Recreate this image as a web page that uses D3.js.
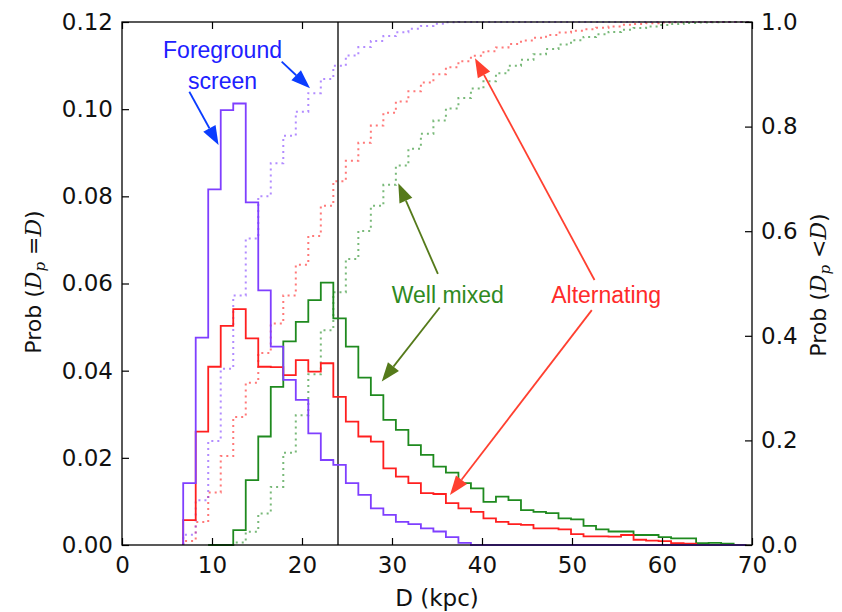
<!DOCTYPE html>
<html><head><meta charset="utf-8">
<script src="https://cdn.jsdelivr.net/npm/d3@7"></script>
<style>body{margin:0;background:#fff}</style>
</head><body><svg id="c" width="842" height="612"></svg>
<script>
// ---- data ----
const binStart = 6.8, binWidth = 1.39;
const foreground = [0.0142,0.0476,0.0816,0.0998,0.1013,0.0786,0.0584,0.0455,0.0379,0.0333,0.0256,0.0195,0.0184,0.0142,0.0115,0.0084,0.0069,0.0053,0.0048,0.0038,0.0031,0.0018,0.0005,0,0,0,0,0,0,0,0,0,0,0,0,0,0,0,0,0,0,0,0,0,0];
const alternating = [0.0057,0.026,0.0409,0.0503,0.0541,0.0474,0.0409,0.0408,0.0390,0.0424,0.0398,0.0417,0.0340,0.0283,0.0249,0.0237,0.0176,0.0157,0.0142,0.0119,0.0117,0.0096,0.0084,0.0076,0.0061,0.0053,0.0048,0.0046,0.0038,0.0038,0.0036,0.0025,0.0020,0.0020,0.0019,0.0023,0.0012,0.0010,0.0009,0.0004,0.0003,0,0,0,0];
const wellMixed = [null,null,0,0,0.0034,0.0149,0.0249,0.0363,0.0467,0.0512,0.0562,0.0602,0.0520,0.0455,0.0384,0.0344,0.0287,0.0264,0.0229,0.0207,0.0180,0.0166,0.0142,0.0130,0.0099,0.0111,0.0103,0.0080,0.0076,0.0073,0.0061,0.0059,0.0044,0.0036,0.0031,0.0031,0.0023,0.0023,0.0018,0.0015,0.0015,0.0004,0.0005,0.0003,0];
const xTicks = [0,10,20,30,40,50,60,70];
const leftTicks = [0,0.02,0.04,0.06,0.08,0.10,0.12];
const rightTicks = [0,0.2,0.4,0.6,0.8,1.0];
const dividerD = 24;

const seriesColors = {foreground:"#7f3fff", alternating:"#ff1f1f", wellMixed:"#1f8a1f"};

// annotations in data coords (D, left-axis prob)
const labels = [
  {text:"Foreground", x:11.17, y:0.1117, color:"#2020ff"},
  {text:"screen", x:11.17, y:0.1046, color:"#2020ff"},
  {text:"Well mixed", x:36.2, y:0.0555, color:"#2f8a1f"},
  {text:"Alternating", x:53.8, y:0.0555, color:"#ff2a2a"}
];
const arrows = [
  {x1:7.48, y1:0.104, x2:10.73, y2:0.0918, color:"#0a3cff"},
  {x1:17.74, y1:0.1109, x2:20.89, y2:0.1048, color:"#0a3cff"},
  {x1:35.1, y1:0.0622, x2:30.7, y2:0.0830, color:"#557a1a"},
  {x1:35.3, y1:0.0545, x2:28.86, y2:0.0375, color:"#557a1a"},
  {x1:52.5, y1:0.0608, x2:39.22, y2:0.1117, color:"#ff4030"},
  {x1:52.2, y1:0.0539, x2:36.44, y2:0.0115, color:"#ff4030"}
];

// ---- scales ----
const W=842, H=612, L=122, R=752, T=22, B=545;
const x = d3.scaleLinear().domain([0,70]).range([L,R]);
const yL = d3.scaleLinear().domain([0,0.12]).range([B,T]);
const yR = d3.scaleLinear().domain([0,1]).range([B,T]);
const svg = d3.select("#c");
const FONT = "DejaVu Sans, sans-serif";

const edge = i => binStart + i*binWidth;
const line = (ys) => d3.line().x(d=>x(d[0])).y(d=>ys(d[1]));

function histPts(vals){
  const pts=[]; let first=vals.findIndex(v=>v!==null);
  pts.push([edge(first),0]);
  for(let i=first;i<vals.length;i++){ pts.push([edge(i),vals[i]]); pts.push([edge(i+1),vals[i]]); }
  pts.push([edge(vals.length),0]);
  return pts;
}
function cdfPts(vals){
  const first=vals.findIndex(v=>v!==null);
  const total=d3.sum(vals);
  const pts=[[edge(first),0]]; let c=0;
  for(let i=first;i<vals.length;i++){ c+=vals[i]; pts.push([edge(i),c/total]); pts.push([edge(i+1),c/total]); }
  pts.push([70,1]);
  return pts;
}

const plot = svg.append("g");
const clip = svg.append("clipPath").attr("id","pc").append("rect").attr("x",L).attr("y",T-2).attr("width",R-L).attr("height",B-T+4);
const series = [["wellMixed",wellMixed],["alternating",alternating],["foreground",foreground]];
// CDFs dotted
series.forEach(([k,v])=>{
  plot.append("path").attr("d",line(yR)(cdfPts(v))).attr("fill","none")
    .attr("stroke",seriesColors[k]).attr("stroke-opacity",0.6).attr("stroke-width",2)
    .attr("stroke-dasharray","2,4").attr("clip-path","url(#pc)");
});
// divider
plot.append("line").attr("x1",x(dividerD)).attr("x2",x(dividerD)).attr("y1",yL(0)).attr("y2",yL(0.12))
  .attr("stroke","#000").attr("stroke-width",1.3);
// histograms
series.forEach(([k,v])=>{
  plot.append("path").attr("d",line(yL)(histPts(v))).attr("fill","none")
    .attr("stroke",seriesColors[k]).attr("stroke-width",1.8).attr("clip-path","url(#pc)");
});

// axes
function styleAxis(g){
  g.select(".domain").remove();
  g.attr("font-family",FONT).attr("font-size",23);
  g.selectAll(".tick line").attr("stroke","#000").attr("stroke-width",1.2);
  g.selectAll(".tick text").attr("fill","#111");
}
svg.append("g").attr("transform",`translate(0,${B})`)
  .call(d3.axisBottom(x).tickValues(xTicks).tickSizeInner(-7).tickSizeOuter(0).tickPadding(12)).call(styleAxis);
svg.append("g").attr("transform",`translate(0,${T})`)
  .call(d3.axisTop(x).tickValues(xTicks).tickSizeInner(-7).tickSizeOuter(0).tickFormat("")).call(styleAxis);
svg.append("g").attr("transform",`translate(${L},0)`)
  .call(d3.axisLeft(yL).tickValues(leftTicks).tickFormat(d3.format(".2f")).tickSizeInner(-7).tickSizeOuter(0).tickPadding(9)).call(styleAxis);
svg.append("g").attr("transform",`translate(${R},0)`)
  .call(d3.axisRight(yR).tickValues(rightTicks).tickFormat(d3.format(".1f")).tickSizeInner(-7).tickSizeOuter(0).tickPadding(9)).call(styleAxis);
svg.append("rect").attr("x",L).attr("y",T).attr("width",R-L).attr("height",B-T)
  .attr("fill","none").attr("stroke","#000").attr("stroke-width",1.3);

// axis titles
svg.append("text").attr("x",(L+R)/2).attr("y",606).attr("text-anchor","middle")
  .attr("font-family",FONT).attr("font-size",23).attr("fill","#111").text("D (kpc)");
function ylab(tx,ty,op){
  const t=svg.append("text").attr("transform",`translate(${tx},${ty}) rotate(-90)`).attr("text-anchor","middle")
    .attr("font-family",FONT).attr("font-size",22).attr("fill","#111");
  t.append("tspan").text("Prob (");
  t.append("tspan").attr("font-family","DejaVu Serif, serif").attr("font-style","italic").text("D");
  t.append("tspan").attr("font-family","DejaVu Serif, serif").attr("font-style","italic").attr("font-size",15).attr("dy",4).text("p");
  t.append("tspan").attr("dy",-4).text(" "+op);
  t.append("tspan").attr("font-family","DejaVu Serif, serif").attr("font-style","italic").text("D");
  t.append("tspan").text(")");
}
ylab(41,282,"=");
ylab(826,285,"<");

// annotations
const ann = svg.append("g");
labels.forEach(l=>{
  ann.append("text").attr("x",x(l.x)).attr("y",yL(l.y)).attr("text-anchor","middle")
    .attr("font-family","Liberation Sans, Arial, sans-serif").attr("font-size",23).attr("fill",l.color).text(l.text);
});
arrows.forEach(a=>{
  const X1=x(a.x1),Y1=yL(a.y1),X2=x(a.x2),Y2=yL(a.y2);
  const dx=X2-X1, dy=Y2-Y1, len=Math.hypot(dx,dy), ux=dx/len, uy=dy/len;
  const hl=19, hw=7;
  const bx=X2-ux*hl, by=Y2-uy*hl;
  ann.append("line").attr("x1",X1).attr("y1",Y1).attr("x2",bx).attr("y2",by)
    .attr("stroke",a.color).attr("stroke-width",1.8);
  ann.append("path").attr("d",`M${X2},${Y2}L${bx-uy*hw},${by+ux*hw}L${bx+uy*hw},${by-ux*hw}Z`).attr("fill",a.color);
});
</script></body></html>
